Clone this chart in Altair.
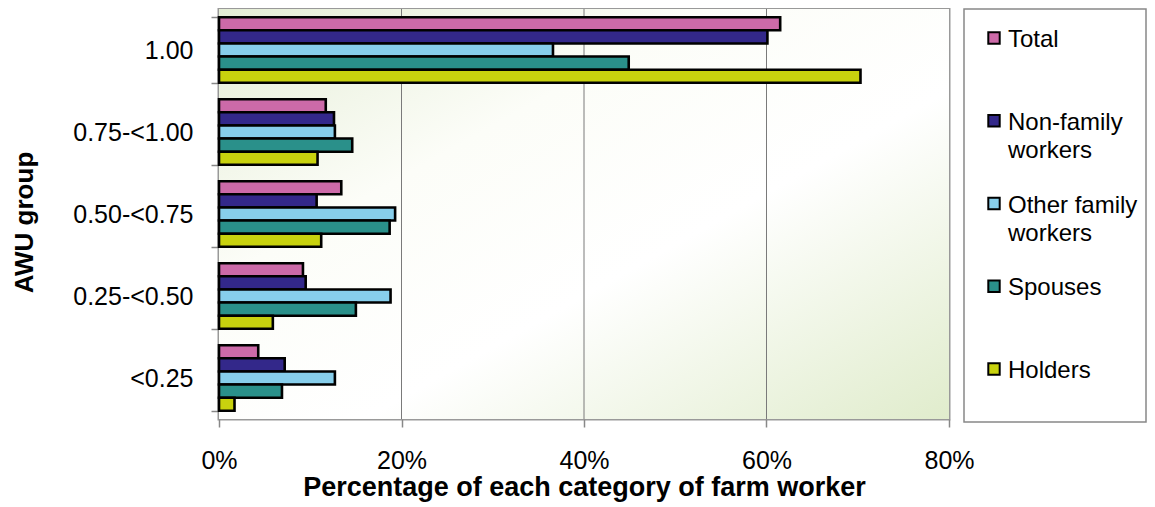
import altair as alt
import pandas as pd

# ---- data ----
groups = ["1.00", "0.75-<1.00", "0.50-<0.75", "0.25-<0.50", "<0.25"]
series = ["Total", "Non-family workers", "Other family workers", "Spouses", "Holders"]
legend_labels = ["Total", "Non-family\nworkers", "Other family\nworkers", "Spouses", "Holders"]
colors = ["#CC6AA8", "#33288A", "#87CEEB", "#2A908A", "#C8D20E"]

total = [61.5, 11.7, 13.4, 9.2, 4.3]
non_family = [60.1, 12.6, 10.7, 9.5, 7.2]
other_family = [36.6, 12.7, 19.3, 18.8, 12.7]
spouses = [44.9, 14.6, 18.7, 15.0, 6.9]
holders = [70.3, 10.8, 11.2, 5.9, 1.7]

x_ticks = [0, 0.2, 0.4, 0.6, 0.8]
grid_ticks = [0.2, 0.4, 0.6]

values_by_series = [total, non_family, other_family, spouses, holders]
rows = []
for s, vals in zip(series, values_by_series):
    for g, v in zip(groups, vals):
        rows.append({"group": g, "series": s, "value": v / 100.0})
df = pd.DataFrame(rows)

FONT = "Liberation Sans"
W, H = 730, 410

gradient = {
    "gradient": "linear", "x1": 0, "y1": 0, "x2": 1, "y2": 1,
    "stops": [
        {"offset": 0.0, "color": "#E4EDD5"},
        {"offset": 0.33, "color": "#FCFDF8"},
        {"offset": 0.6, "color": "#FFFFFF"},
        {"offset": 1.0, "color": "#E0ECCC"},
    ],
}

bg = alt.Chart(pd.DataFrame({"k": [0]})).mark_rect(fill=gradient).encode(
    x=alt.value(0), x2=alt.value(W), y=alt.value(0), y2=alt.value(H)
)

xscale = alt.Scale(domain=[0, 0.8], nice=False)

grid = alt.Chart(pd.DataFrame({"t": grid_ticks})).mark_rule(
    color="#7A7A7A", strokeWidth=1
).encode(x=alt.X("t:Q", scale=xscale))

color_scale = alt.Scale(domain=series, range=colors)

bars = alt.Chart(df).mark_bar(stroke="black", strokeWidth=2.6).encode(
    x=alt.X(
        "value:Q",
        scale=xscale,
        axis=alt.Axis(
            values=x_ticks, format=".0%", grid=False, domain=False, labelFlush=False,
            tickSize=8, tickColor="#888888", tickWidth=1.5,
            labelFontSize=25, labelFont=FONT, labelColor="black", labelPadding=21,
            title="Percentage of each category of farm worker",
            titleFontSize=27, titleFont=FONT, titleFontWeight="bold",
            titleColor="black", titlePadding=1,
        ),
    ),
    y=alt.Y(
        "group:N",
        sort=groups,
        scale=alt.Scale(paddingInner=0.2, paddingOuter=0.1),
        axis=alt.Axis(
            domain=False, tickBand="extent", tickSize=8, tickColor="#888888",
            tickWidth=1.5, labelFontSize=25, labelFont=FONT, labelColor="black",
            labelPadding=18, title="AWU group", titleFontSize=26, titleFont=FONT,
            titleFontWeight="bold", titleColor="black", titlePadding=35, titleY=213,
        ),
    ),
    yOffset=alt.YOffset("series:N", sort=series,
                        scale=alt.Scale(paddingInner=0, paddingOuter=0)),
    color=alt.Color("series:N", scale=color_scale, legend=None),
)

main = alt.layer(bg, grid, bars).properties(
    width=W, height=H,
    view=alt.ViewBackground(stroke="#999999", strokeWidth=3),
)

# ---- legend panel ----
leg_df = pd.DataFrame({"series": series, "label": legend_labels})
leg_y = alt.Y("series:N", sort=series, axis=None,
              scale=alt.Scale(range=[29, 360], padding=0))

sq = alt.Chart(leg_df).mark_square(
    size=130, stroke="black", strokeWidth=2, opacity=1
).encode(
    x=alt.value(30), y=leg_y,
    color=alt.Color("series:N", scale=color_scale, legend=None),
)
txt = alt.Chart(leg_df).mark_text(
    align="left", baseline="top", dy=-10, fontSize=24, font=FONT,
    lineBreak="\n", lineHeight=28, color="black",
).encode(x=alt.value(44), y=leg_y, text="label:N")

legend = alt.layer(sq, txt).properties(
    width=182, height=413,
    view=alt.ViewBackground(stroke="#888888", strokeWidth=1.5),
)

chart = alt.hconcat(main, legend, spacing=15, bounds="flush").properties(
    padding={"left": 2, "top": -13, "right": 0, "bottom": 0}
).configure(background="white")

chart.save("out.html", embed_options={"renderer": "svg", "actions": False})
